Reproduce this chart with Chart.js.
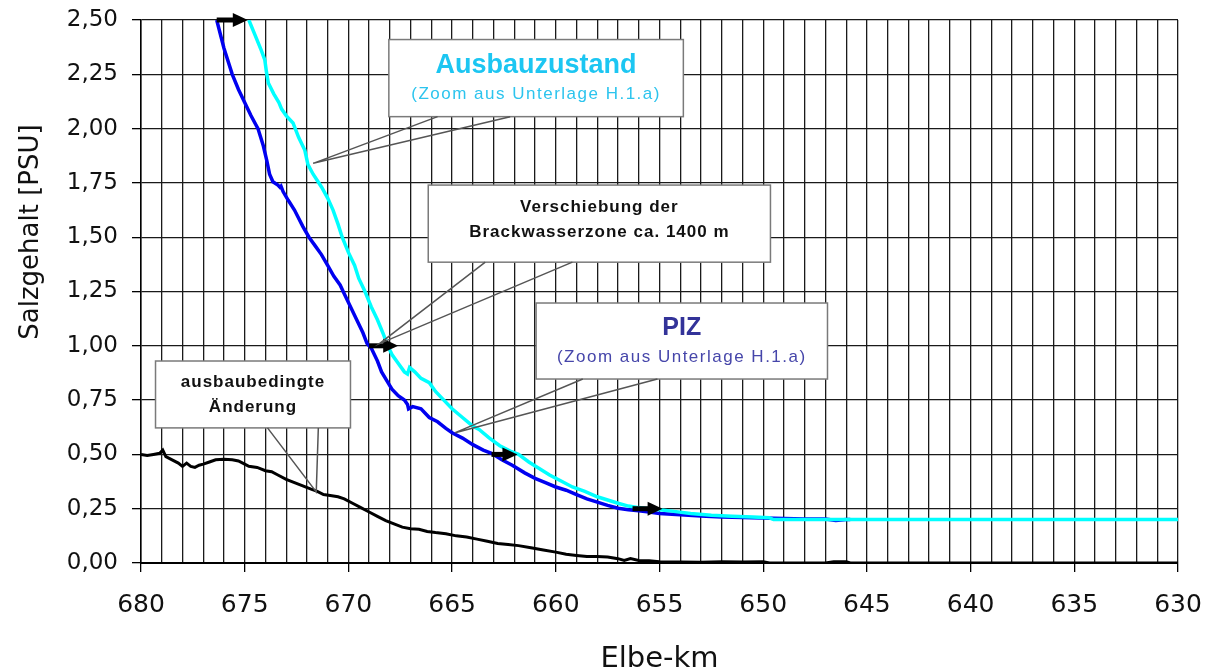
<!DOCTYPE html>
<html>
<head>
<meta charset="utf-8">
<script src="https://cdn.jsdelivr.net/npm/chart.js@4/dist/chart.umd.min.js"></script>
<style>
  body { margin: 0; background: #fff; }
  #wrap { width: 1213px; height: 671px; position: relative; }
</style>
</head>
<body>
<div id="wrap"><canvas id="chart"></canvas></div>
<script>
// Ausbauzustand (cyan)
const kmAusbau = [674.8, 674.5, 674.2, 674.03, 673.95, 673.86, 673.6, 673.35, 673.22, 673.0, 672.67, 672.4, 672.1, 671.95, 671.7, 671.29, 671.0, 670.74, 670.5, 670.3, 670.0, 669.7, 669.5, 669.2, 668.9, 668.6, 668.3, 668.1, 667.9, 667.6, 667.3, 667.15, 667.05, 666.8, 666.5, 666.1, 665.8, 665.4, 665.0, 664.5, 664.0, 663.7, 663.2, 662.7, 662.2, 661.8, 661.3, 660.8, 660.3, 659.7, 659.2, 658.6, 658.0, 657.5, 657.0, 656.5, 656.0, 655.5, 655.0, 654.5, 653.5, 652.5, 651.5, 650.5, 649.7, 649.5, 645.0, 640.0, 635.0, 630.0];
const salzAusbau = [2.50, 2.43, 2.36, 2.316, 2.26, 2.21, 2.16, 2.12, 2.09, 2.06, 2.026, 1.96, 1.90, 1.834, 1.79, 1.73, 1.68, 1.625, 1.56, 1.50, 1.43, 1.37, 1.31, 1.25, 1.18, 1.12, 1.05, 1.00, 0.96, 0.92, 0.88, 0.87, 0.90, 0.88, 0.85, 0.83, 0.79, 0.75, 0.71, 0.67, 0.63, 0.615, 0.575, 0.54, 0.515, 0.50, 0.465, 0.435, 0.405, 0.375, 0.35, 0.33, 0.305, 0.29, 0.275, 0.262, 0.255, 0.25, 0.245, 0.24, 0.228, 0.22, 0.215, 0.212, 0.208, 0.20, 0.20, 0.20, 0.20, 0.20];

// PIZ (blue)
const kmPIZ = [676.35, 676.0, 675.6, 675.3, 675.0, 674.7, 674.36, 674.1, 673.94, 673.8, 673.64, 673.4, 673.3, 673.25, 673.15, 672.9, 672.6, 672.2, 671.9, 671.6, 671.3, 671.0, 670.7, 670.4, 670.2, 669.9, 669.6, 669.3, 669.1, 668.9, 668.6, 668.4, 668.15, 667.9, 667.6, 667.3, 667.15, 667.1, 666.9, 666.5, 666.1, 665.7, 665.3, 665.0, 664.5, 664.0, 663.5, 663.1, 662.6, 662.1, 661.5, 661.0, 660.5, 660.0, 659.5, 659.0, 658.5, 658.0, 657.5, 657.0, 656.5, 656.0, 655.5, 655.0, 654.0, 653.0, 652.0, 651.0, 650.0, 649.0, 648.0, 647.0, 646.5, 646.0, 645.8];
const salzPIZ = [2.50, 2.37, 2.25, 2.18, 2.12, 2.06, 2.00, 1.92, 1.855, 1.79, 1.755, 1.74, 1.73, 1.735, 1.71, 1.67, 1.625, 1.55, 1.50, 1.46, 1.42, 1.37, 1.32, 1.28, 1.24, 1.18, 1.12, 1.06, 1.01, 0.99, 0.93, 0.88, 0.84, 0.80, 0.77, 0.75, 0.73, 0.71, 0.72, 0.71, 0.67, 0.65, 0.62, 0.60, 0.575, 0.545, 0.52, 0.505, 0.475, 0.45, 0.415, 0.39, 0.37, 0.35, 0.335, 0.315, 0.295, 0.28, 0.265, 0.252, 0.245, 0.24, 0.235, 0.228, 0.222, 0.216, 0.212, 0.21, 0.207, 0.205, 0.203, 0.203, 0.196, 0.20, 0.20];

// ausbaubedingte Änderung (black)
const kmDiff = [680.0, 679.7, 679.4, 679.1, 678.95, 678.8, 678.5, 678.2, 678.0, 677.8, 677.6, 677.4, 677.2, 677.0, 676.7, 676.4, 676.0, 675.6, 675.3, 675.0, 674.8, 674.4, 674.0, 673.7, 673.4, 673.0, 672.6, 672.2, 671.8, 671.5, 671.2, 670.8, 670.5, 670.2, 669.8, 669.4, 669.0, 668.6, 668.2, 667.8, 667.4, 667.0, 666.6, 666.2, 665.8, 665.3, 664.8, 664.3, 663.8, 663.3, 662.8, 662.3, 661.8, 661.2, 660.6, 660.0, 659.5, 659.0, 658.5, 658.0, 657.5, 657.0, 656.7, 656.4, 656.0, 655.5, 655.0, 654.0, 653.0, 652.0, 651.0, 650.0, 649.7, 647.0, 646.6, 646.0, 645.8, 630.0];
const salzDiff = [0.50, 0.495, 0.50, 0.505, 0.52, 0.49, 0.475, 0.46, 0.445, 0.46, 0.445, 0.44, 0.45, 0.455, 0.465, 0.475, 0.478, 0.475, 0.47, 0.455, 0.445, 0.44, 0.425, 0.42, 0.405, 0.385, 0.37, 0.355, 0.34, 0.33, 0.315, 0.31, 0.305, 0.295, 0.275, 0.255, 0.235, 0.215, 0.195, 0.18, 0.165, 0.158, 0.155, 0.145, 0.14, 0.135, 0.125, 0.12, 0.11, 0.10, 0.09, 0.085, 0.08, 0.07, 0.06, 0.05, 0.04, 0.035, 0.03, 0.03, 0.028, 0.02, 0.012, 0.02, 0.012, 0.01, 0.006, 0.005, 0.003, 0.006, 0.005, 0.006, 0.0, 0.0, 0.006, 0.006, 0.0, 0.0];

const yTicks = [0, 0.25, 0.5, 0.75, 1, 1.25, 1.5, 1.75, 2, 2.25, 2.5];

// Pfeile (Verschiebung), in km / PSU
const arrows = [
  { from: 676.35, to: 674.85, y: 2.50 },
  { from: 669.0, to: 667.6, y: 1.00 },
  { from: 663.1, to: 661.85, y: 0.50 },
  { from: 656.3, to: 654.85, y: 0.25 }
];

// Sprechblasen
const callouts = [
  { x1: 668.05, x2: 653.85, y1: 2.41, y2: 2.055, base: [665.7, 662.2], tip: [671.7, 1.84],
    lines: [
      { text: "Ausbauzustand", font: "bold 27px 'Liberation Sans'", color: "#1cc6f2", dy: 33, ls: "0px" },
      { text: "(Zoom aus Unterlage H.1.a)", font: "17px 'Liberation Sans'", color: "#2cc4ee", dy: 59, ls: "1.5px" }
    ] },
  { x1: 666.15, x2: 649.65, y1: 1.74, y2: 1.385, base: [663.4, 659.2], tip: [668.5, 1.01],
    lines: [
      { text: "Verschiebung der", font: "bold 17px 'Liberation Sans'", color: "#111", dy: 27, ls: "1px" },
      { text: "Brackwasserzone ca. 1400 m", font: "bold 17px 'Liberation Sans'", color: "#111", dy: 52, ls: "1px" }
    ] },
  { x1: 660.95, x2: 646.9, y1: 1.197, y2: 0.847, base: [658.7, 655.1], tip: [664.85, 0.60],
    lines: [
      { text: "PIZ", font: "bold 25px 'Liberation Sans'", color: "#333399", dy: 32, ls: "0px" },
      { text: "(Zoom aus Unterlage H.1.a)", font: "17px 'Liberation Sans'", color: "#4646aa", dy: 59, ls: "1.5px" }
    ] },
  { x1: 679.3, x2: 669.9, y1: 0.93, y2: 0.622, base: [673.9, 671.45], tip: [671.55, 0.327],
    lines: [
      { text: "ausbaubedingte", font: "bold 17px 'Liberation Sans'", color: "#111", dy: 26, ls: "1px" },
      { text: "Änderung", font: "bold 17px 'Liberation Sans'", color: "#111", dy: 51, ls: "1px" }
    ] }
];

const toPoints = (xs, ys) => xs.map((x, i) => ({ x: x, y: ys[i] }));

const extrasPlugin = {
  id: "extras",
  afterDatasetsDraw(chart) {
    const ctx = chart.ctx;
    const sx = chart.scales.x, sy = chart.scales.y;

    // Pfeile
    ctx.save();
    ctx.fillStyle = "#000";
    ctx.strokeStyle = "#000";
    arrows.forEach(a => {
      const x0 = sx.getPixelForValue(a.from);
      const x1 = sx.getPixelForValue(a.to);
      const py = sy.getPixelForValue(a.y);
      ctx.lineWidth = 5;
      ctx.beginPath();
      ctx.moveTo(x0, py);
      ctx.lineTo(x1 - 12, py);
      ctx.stroke();
      ctx.beginPath();
      ctx.moveTo(x1, py);
      ctx.lineTo(x1 - 15, py - 7);
      ctx.lineTo(x1 - 15, py + 7);
      ctx.closePath();
      ctx.fill();
    });
    ctx.restore();

    // Sprechblasen
    callouts.forEach(c => {
      const L = sx.getPixelForValue(c.x1), R = sx.getPixelForValue(c.x2);
      const T = sy.getPixelForValue(c.y1), B = sy.getPixelForValue(c.y2);
      const b1 = sx.getPixelForValue(c.base[0]), b2 = sx.getPixelForValue(c.base[1]);
      const tx = sx.getPixelForValue(c.tip[0]), ty = sy.getPixelForValue(c.tip[1]);
      ctx.save();
      ctx.fillStyle = "#fff";
      ctx.strokeStyle = "#7a7a7a";
      ctx.lineWidth = 1.5;
      ctx.fillRect(L, T, R - L, B - T);
      ctx.strokeRect(L, T, R - L, B - T);
      ctx.strokeStyle = "#555";
      ctx.beginPath();
      ctx.moveTo(b1, B);
      ctx.lineTo(tx, ty);
      ctx.lineTo(b2, B);
      ctx.stroke();
      ctx.textAlign = "center";
      ctx.textBaseline = "alphabetic";
      c.lines.forEach(l => {
        ctx.font = l.font;
        ctx.fillStyle = l.color;
        ctx.letterSpacing = l.ls;
        ctx.fillText(l.text, (L + R) / 2, T + l.dy);
      });
      ctx.restore();
    });
  },
  afterDraw(chart) {
    const ctx = chart.ctx;
    ctx.save();
    ctx.translate(31, 232);
    ctx.rotate(-Math.PI / 2);
    ctx.font = "26px 'DejaVu Sans'";
    ctx.fillStyle = "#111";
    ctx.textAlign = "center";
    ctx.textBaseline = "middle";
    ctx.fillText("Salzgehalt [PSU]", 0, 0);
    ctx.restore();
  }
};

const ctx = document.getElementById("chart").getContext("2d");
new Chart(ctx, {
  type: "line",
  data: {
    datasets: [
      { label: "Ausbauzustand", data: toPoints(kmAusbau, salzAusbau), borderColor: "#00ffff", borderWidth: 3.5 },
      { label: "PIZ", data: toPoints(kmPIZ, salzPIZ), borderColor: "#0000f0", borderWidth: 3.5 },
      { label: "ausbaubedingte Änderung", data: toPoints(kmDiff, salzDiff), borderColor: "#000000", borderWidth: 3 }
    ]
  },
  options: {
    responsive: true,
    maintainAspectRatio: false,
    animation: false,
    elements: { point: { radius: 0 }, line: { tension: 0 } },
    layout: { autoPadding: false, padding: { left: 0, right: 35, top: 20, bottom: 0 } },
    plugins: { legend: { display: false }, tooltip: { enabled: false } },
    scales: {
      x: {
        type: "linear",
        min: 630,
        max: 680,
        reverse: true,
        afterFit: s => { s.height = 108; },
        border: { display: true, color: "#000", width: 2 },
        grid: {
          color: "#1a1a1a",
          lineWidth: 1.3,
          tickLength: 9,
          tickColor: c => (c.tick && Math.round(c.tick.value) % 5 === 0) ? "#000" : "rgba(0,0,0,0)"
        },
        ticks: {
          stepSize: 1,
          autoSkip: false,
          maxRotation: 0,
          padding: 11,
          color: "#111",
          font: { family: "'DejaVu Sans'", size: 25, lineHeight: 1.76 },
          callback: v => (Math.round(v) % 5 === 0 ? String(v) : "")
        },
        title: {
          display: true,
          text: "Elbe-km",
          color: "#111",
          font: { family: "'DejaVu Sans'", size: 29, lineHeight: 0.8 },
          padding: { top: 8, bottom: 0 }
        }
      },
      y: {
        min: 0,
        max: 2.5,
        afterFit: s => { s.width = 141; },
        afterBuildTicks: s => { s.ticks = yTicks.map(v => ({ value: v })); },
        border: { display: true, color: "#000", width: 1.5 },
        grid: { color: "#1a1a1a", lineWidth: 1.3, tickLength: 9, tickColor: "#000" },
        ticks: {
          padding: 14,
          color: "#111",
          font: { family: "'DejaVu Sans'", size: 23, lineHeight: 0.5 },
          callback: v => v.toFixed(2).replace(".", ",")
        }
      }
    }
  },
  plugins: [extrasPlugin]
});
</script>
</body>
</html>
